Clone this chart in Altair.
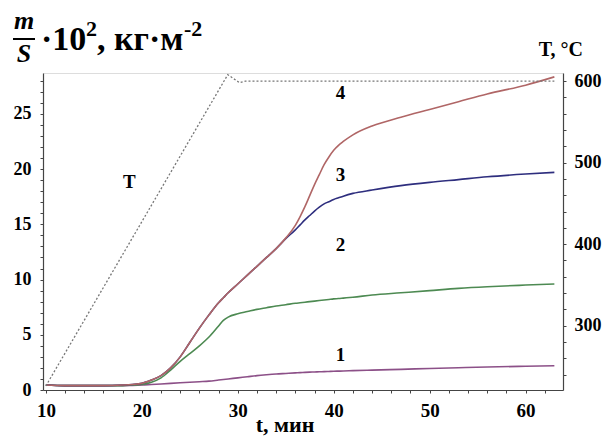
import altair as alt
import pandas as pd

# ---- data ----
t = [10, 12, 14, 16, 18, 19, 20, 21, 22, 23, 24, 25, 26, 27, 28, 28.5, 29, 30, 31, 32,
     33, 34, 35, 36, 36.5, 37, 37.5, 38, 38.5, 39, 39.5, 40, 40.5, 41, 42, 44, 47, 50,
     53, 56, 60, 63]
curve1 = [0.45, 0.4, 0.4, 0.4, 0.4, 0.42, 0.45, 0.5, 0.55, 0.6, 0.65, 0.7, 0.75, 0.8,
          0.9, 0.95, 1.0, 1.1, 1.2, 1.3, 1.38, 1.45, 1.5, 1.55, 1.57, 1.6, 1.62, 1.63,
          1.65, 1.66, 1.68, 1.7, 1.71, 1.72, 1.75, 1.8, 1.87, 1.95, 2.02, 2.08, 2.15, 2.2]
curve2 = [0.45, 0.4, 0.4, 0.4, 0.4, 0.45, 0.5, 0.7, 1.1, 1.8, 2.6, 3.3, 4.0, 4.8, 5.8,
          6.3, 6.6, 6.9, 7.1, 7.3, 7.45, 7.6, 7.72, 7.85, 7.9, 7.95, 8.0, 8.05, 8.1,
          8.15, 8.2, 8.25, 8.28, 8.32, 8.4, 8.6, 8.8, 9.0, 9.2, 9.35, 9.5, 9.6]
curve3 = [0.45, 0.4, 0.4, 0.4, 0.45, 0.5, 0.6, 0.9, 1.3, 2.0, 3.0, 4.3, 5.6, 6.8, 7.9,
          8.35, 8.8, 9.6, 10.4, 11.2, 12.0, 12.8, 13.7, 14.5, 14.95, 15.4, 15.8, 16.2,
          16.55, 16.85, 17.05, 17.25, 17.4, 17.55, 17.8, 18.1, 18.5, 18.8, 19.05, 19.3,
          19.55, 19.7]
curve4 = [0.45, 0.4, 0.4, 0.4, 0.45, 0.5, 0.6, 0.9, 1.3, 2.0, 3.0, 4.3, 5.6, 6.8, 7.9,
          8.35, 8.8, 9.6, 10.4, 11.2, 12.0, 12.8, 13.75, 14.9, 15.7, 16.6, 17.6, 18.6,
          19.5, 20.4, 21.1, 21.7, 22.15, 22.5, 23.1, 23.9, 24.7, 25.4, 26.1, 26.8, 27.6,
          28.35]
curve_names = ["1", "2", "3", "4"]
curve_colors = ["#8c5088", "#4d8a52", "#2e2e7e", "#b06666"]

temp_t = [10, 28.96, 30.2, 30.8, 63]
temp_v = [226, 608, 598, 600, 600]

label_text = ["1", "2", "3", "4", "T"]
label_t = [40.7, 40.7, 40.7, 40.7, 18.7]
label_v = [3.2, 13.1, 19.5, 26.9, 18.8]

x_ticks = list(range(10, 64, 2))
y_ticks = list(range(0, 29))
temp_ticks = list(range(240, 610, 20))

# ---- tables ----
rows = []
for name, vals in zip(curve_names, [curve1, curve2, curve3, curve4]):
    for ti, vi in zip(t, vals):
        rows.append({"t": ti, "v": vi, "curve": name})
df = pd.DataFrame(rows)
df_T = pd.DataFrame({"t": temp_t, "T": temp_v})
df_lab = pd.DataFrame({"t": label_t, "v": label_v, "s": label_text})

FONT = "Liberation Serif"
x_scale = alt.Scale(domain=[9.7, 63.9], nice=False, zero=False)
y_scale = alt.Scale(domain=[0, 28.7], nice=False)
T_scale = alt.Scale(domain=[221, 610], nice=False, zero=False)

axis_style = dict(title=None, grid=False, labelFont=FONT, labelFontWeight="bold",
                  labelColor="black", domainColor="#444", domainWidth=1.2,
                  tickColor="#444", tickSize=3, labelOverlap=False, labelFlush=False)

x_axis = alt.Axis(values=x_ticks, labelFontSize=19, labelPadding=8,
                  labelExpr="datum.value % 10 == 0 ? datum.label : ''", **axis_style)
y_axis = alt.Axis(values=y_ticks, labelFontSize=18, labelPadding=9,
                  labelExpr="datum.value % 5 == 0 ? datum.label : ''", **axis_style)
T_axis = alt.Axis(orient="right", values=temp_ticks, labelFontSize=18, labelPadding=8,
                  labelExpr="datum.value % 100 == 0 ? datum.label : ''", **axis_style)

lines = alt.Chart(df).mark_line(strokeWidth=1.6, interpolate="monotone").encode(
    x=alt.X("t:Q", scale=x_scale, axis=x_axis),
    y=alt.Y("v:Q", scale=y_scale, axis=y_axis),
    color=alt.Color("curve:N", scale=alt.Scale(domain=curve_names, range=curve_colors),
                    legend=None),
)

labels = alt.Chart(df_lab).mark_text(font=FONT, fontWeight="bold", fontSize=19,
                                     color="black").encode(
    x=alt.X("t:Q", scale=x_scale, axis=x_axis),
    y=alt.Y("v:Q", scale=y_scale, axis=y_axis),
    text="s:N")

left = alt.layer(lines, labels)

temp = alt.Chart(df_T).mark_line(strokeDash=[2, 2], strokeWidth=1.3, color="#777").encode(
    x=alt.X("t:Q", scale=x_scale, axis=x_axis),
    y=alt.Y("T:Q", scale=T_scale, axis=T_axis),
)


def txt(s, x, y, size, style="normal", align="left"):
    return alt.Chart(pd.DataFrame({"s": [s]})).mark_text(
        font=FONT, fontWeight="bold", fontStyle=style, fontSize=size, align=align,
        baseline="alphabetic", color="black").encode(
        x=alt.value(x - 43), y=alt.value(y - 73), text="s:N")


bar = alt.Chart(pd.DataFrame({"a": [0]})).mark_rule(color="black", strokeWidth=2).encode(
    x=alt.value(13 - 43), x2=alt.value(35 - 43), y=alt.value(39 - 73))

titles = [
    txt("m", 24, 29, 26, "italic", "center"),
    txt("S", 24, 62, 26, "italic", "center"),
    bar,
    txt("·10", 41, 50, 34),
    txt("2", 86, 36, 22),
    txt(", кг·м", 97, 50, 34),
    txt("-2", 184, 36, 22),
    txt("T, °C", 583, 56, 20, align="right"),
    txt("t, мин", 285, 432, 22, align="center"),
]

chart = alt.layer(left, temp, *titles).resolve_scale(y="independent").properties(
    width=520, height=317,
    autosize=alt.AutoSizeParams(type="none"),
    padding={"left": 43, "top": 73, "right": 42, "bottom": 49},
).configure_view(strokeWidth=0).configure(background="white")

chart.save("out.html", embed_options={"renderer": "svg", "actions": False})
